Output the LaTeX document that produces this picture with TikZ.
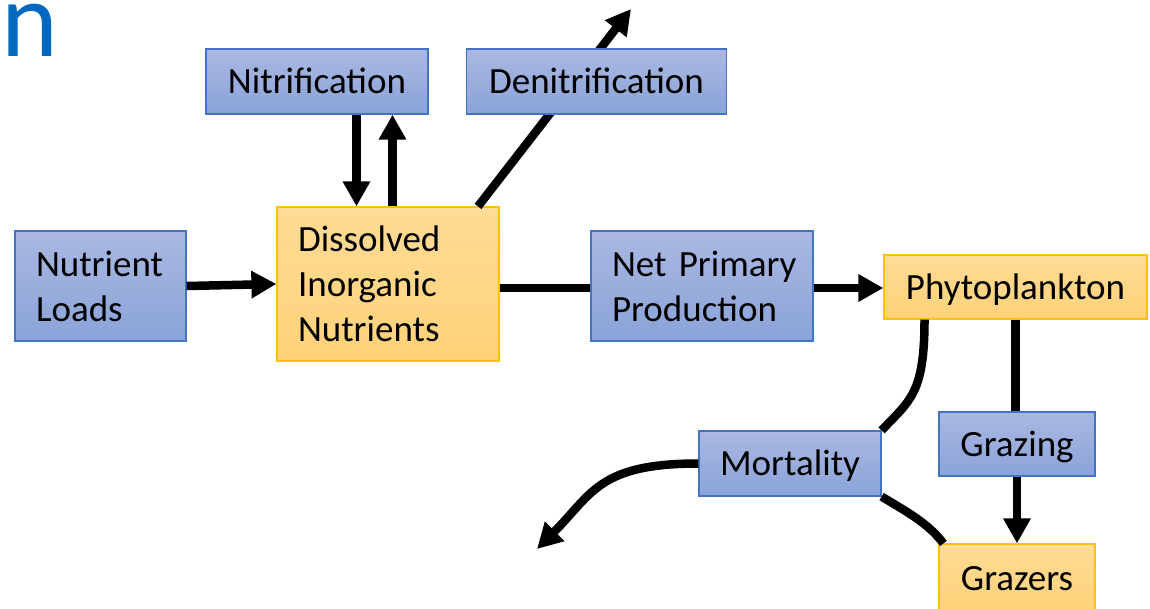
\documentclass[tikz,border=0pt]{standalone}
\usepackage{fontspec}
\setmainfont{Carlito}
\usetikzlibrary{arrows.meta}

\tikzset{>={Triangle[length=25pt,width=26pt]}}
\colorlet{titleblue}{blue!45!cyan!75!black}
\definecolor{boxblue}{RGB}{68,114,196}
\definecolor{bluetop}{RGB}{170,184,226}
\definecolor{bluebot}{RGB}{138,163,216}
\definecolor{boxgold}{RGB}{255,192,0}
\definecolor{goldtop}{RGB}{255,219,150}
\definecolor{goldbot}{RGB}{255,210,120}
\tikzstyle{flow}=[line width=8.5pt]
\tikzstyle{box}=[draw,line width=1.2pt,inner sep=0pt,
  font=\fontsize{37}{45}\selectfont]
\tikzstyle{process}=[box,draw=boxblue,top color=bluetop,bottom color=bluebot]
\tikzstyle{pool}=[box,draw=boxgold,top color=goldtop,bottom color=goldbot]
\tikzstyle{oneline}=[text height=24pt,text depth=0pt]
\tikzset{boxsize/.style 2 args={minimum width=#1pt,minimum height=#2pt},
  lefttext/.style={align=left,text width=#1pt}}

\begin{document}
\begin{tikzpicture}[x=1pt,y=-1pt]
  \useasboundingbox[fill=white] (0,0) rectangle (1150,608);
  \node[anchor=base west,inner sep=0pt,text=titleblue,
    font=\fontsize{108}{120}\selectfont] (title) at (1,56) {n};

  % nitrogen pools and processes
  \node[process,oneline,boxsize={222}{65}] (nitr) at (317,81.5) {Nitrification};
  \node[process,boxsize={171}{110},lefttext=129] (loads) at (100.5,286) {Nutrient\\Loads};
  \node[pool,boxsize={222}{154},lefttext=180] (din) at (388,284) {Dissolved\\Inorganic\\Nutrients};
  \coordinate (denitout) at (631,9);
  \draw[flow,->] ([xshift=90pt]din.north) -- (denitout); % goes under the box
  \node[process,oneline,boxsize={260}{65}] (denitr) at (596.5,81.5) {Denitrification};
  \node[process,boxsize={222}{110},lefttext=180] (npp) at (702,286) {\mbox{Net Primary}\\Production};
  \node[pool,oneline,boxsize={263}{64}] (phyto) at (1015.5,287) {Phytoplankton};
  \node[process,oneline,boxsize={156}{64}] (grazing) at (1017,444) {Grazing};
  \node[process,oneline,boxsize={182}{65}] (mort) at (790,463.5) {Mortality};
  \node[pool,oneline,boxsize={156}{68}] (grazers) at (1017,578) {Grazers};
  \coordinate (mortout) at (537,549);

  % fluxes
  \draw[flow,->] (loads.east) -- (din.west);
  \draw[flow,->] ([xshift=39.5pt]nitr.south) -- ([xshift=-31.5pt]din.north);
  \draw[flow,->] ([xshift=4.5pt]din.north) -- ([xshift=75.5pt]nitr.south);
  \draw[flow] ([yshift=-4pt]din.east) -- ([yshift=-2pt]npp.west);
  \draw[flow,->] ([yshift=-2pt]npp.east) -- ([yshift=-1pt]phyto.west);
  \draw[flow] (phyto.south) -- (phyto.south |- grazing.north);
  \draw[flow,->] (grazing.south) -- (grazing.south |- grazers.north);
  \draw[flow] ([xshift=-91pt]phyto.south) .. controls +(0,75) and +(28,-30) .. (mort.north east);
  \draw[flow] (mort.south east) .. controls +(25,15) and +(-15,-20) .. ([xshift=5pt]grazers.north west);
  \draw[flow,->] (mort.west) .. controls +(-100,0) and +(55,-55) .. (mortout);
\end{tikzpicture}
\end{document}
